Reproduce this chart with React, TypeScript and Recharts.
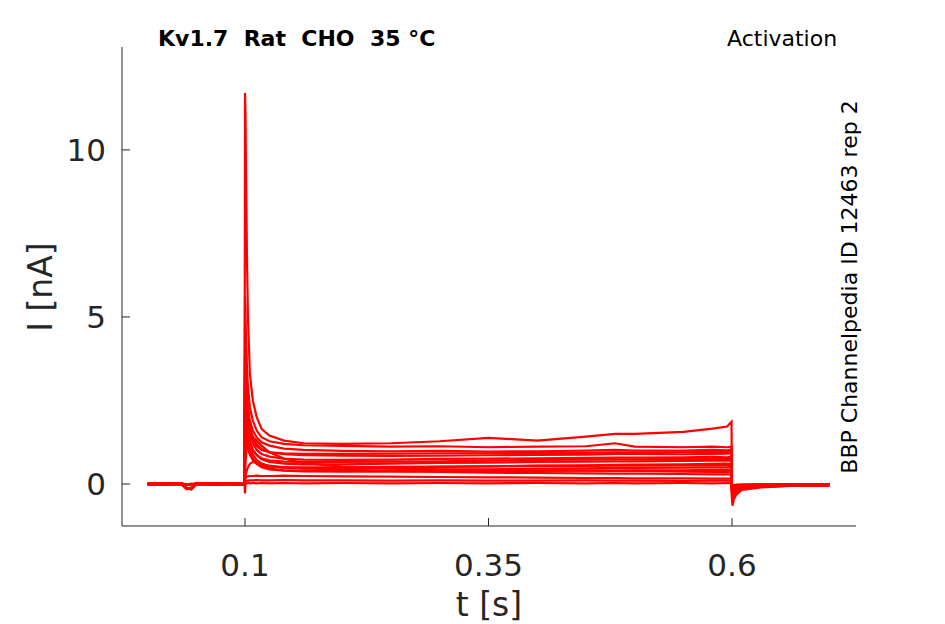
import React from 'react';
import { LineChart, Line, XAxis, YAxis } from 'recharts';

// time samples [s]
const T = [
  0, 0.02, 0.035, 0.04, 0.045, 0.05, 0.07, 0.09, 0.0995,
  0.1, 0.1005, 0.101, 0.102, 0.103, 0.105, 0.108, 0.112, 0.117, 0.125, 0.14, 0.16,
  0.2, 0.25, 0.3, 0.35, 0.4, 0.45, 0.48, 0.5, 0.55, 0.58, 0.595, 0.5995,
  0.6, 0.6005, 0.602, 0.605, 0.61, 0.63, 0.66, 0.7,
];

// current traces [nA]
const traceA = [
  0.01, -0.02, 0.0, -0.14, -0.16, 0.01, -0.01, 0.02, -0.01,
  11.7, 11.1, 9.4, 6.8, 5.0, 3.3, 2.5, 2.0, 1.65, 1.45, 1.3, 1.22,
  1.2, 1.22, 1.28, 1.38, 1.3, 1.42, 1.5, 1.5, 1.56, 1.66, 1.72, 1.86,
  -0.5, -0.65, -0.45, -0.3, -0.18, -0.1, -0.06, -0.05,
];
const traceB = [
  -0.01, 0.01, 0.02, -0.12, -0.15, -0.02, 0.0, -0.01, 0.01,
  5.6, 5.1, 4.4, 3.5, 2.9, 2.3, 1.9, 1.6, 1.4, 1.28, 1.2, 1.16,
  1.14, 1.12, 1.13, 1.1, 1.12, 1.13, 1.22, 1.12, 1.1, 1.12, 1.1, 1.12,
  -0.45, -0.55, -0.4, -0.25, -0.15, -0.08, -0.05, -0.04,
];
const traceC = [
  0.0, 0.02, -0.01, -0.03, -0.02, 0.01, 0.02, 0.0, -0.02,
  4.5, 4.1, 3.5, 2.8, 2.3, 1.9, 1.6, 1.4, 1.25, 1.15, 1.06, 1.02,
  0.99, 0.98, 0.99, 0.97, 0.98, 1.0, 1.02, 1.0, 1.0, 1.02, 1.01, 1.03,
  -0.4, -0.5, -0.35, -0.22, -0.14, -0.08, -0.05, -0.05,
];
const traceD = [
  0.02, 0.0, 0.01, -0.13, -0.12, 0.0, -0.02, 0.01, 0.0,
  3.9, 3.6, 3.1, 2.5, 2.05, 1.7, 1.42, 1.2, 1.05, 0.95, 0.89, 0.86,
  0.85, 0.84, 0.85, 0.86, 0.87, 0.88, 0.9, 0.9, 0.89, 0.9, 0.91, 0.92,
  -0.35, -0.45, -0.3, -0.2, -0.12, -0.07, -0.04, -0.04,
];
const traceR = [
  0.0, -0.01, 0.02, -0.14, -0.12, 0.01, -0.02, 0.0, 0.01,
  3.6, 3.3, 2.85, 2.3, 1.9, 1.58, 1.32, 1.14, 1.02, 0.95, 0.92, 0.9,
  0.9, 0.91, 0.92, 0.92, 0.93, 0.93, 0.95, 0.94, 0.95, 0.96, 0.96, 0.97,
  -0.33, -0.42, -0.3, -0.19, -0.11, -0.06, -0.04, -0.03,
];
const traceE = [
  -0.02, 0.01, 0.0, -0.02, -0.04, 0.02, 0.0, -0.01, 0.01,
  3.4, 3.1, 2.7, 2.15, 1.8, 1.48, 1.22, 1.02, 0.9, 0.82, 0.76, 0.73,
  0.72, 0.73, 0.75, 0.76, 0.77, 0.78, 0.79, 0.79, 0.8, 0.81, 0.8, 0.82,
  -0.3, -0.4, -0.28, -0.18, -0.1, -0.06, -0.04, -0.03,
];
const traceQ = [
  -0.02, 0.01, 0.01, -0.02, -0.01, -0.01, 0.0, 0.02, -0.01,
  2.8, 2.55, 2.2, 1.8, 1.5, 1.22, 1.0, 0.86, 0.77, 0.71, 0.67, 0.66,
  0.66, 0.67, 0.68, 0.7, 0.72, 0.73, 0.74, 0.74, 0.75, 0.76, 0.75, 0.76,
  -0.26, -0.33, -0.24, -0.15, -0.08, -0.05, -0.03, -0.03,
];
const traceF = [
  0.01, -0.01, 0.02, -0.14, -0.15, -0.01, 0.01, 0.0, -0.01,
  3.0, 2.7, 2.35, 1.9, 1.55, 1.28, 1.03, 0.87, 0.74, 0.66, 0.61, 0.59,
  0.59, 0.61, 0.63, 0.64, 0.66, 0.67, 0.68, 0.68, 0.69, 0.7, 0.71, 0.7,
  -0.28, -0.35, -0.25, -0.15, -0.09, -0.05, -0.03, -0.03,
];
const traceG = [
  0.0, 0.02, -0.02, -0.01, 0.01, 0.0, -0.01, 0.02, 0.0,
  2.6, 2.35, 2.05, 1.65, 1.35, 1.08, 0.88, 0.72, 0.61, 0.53, 0.49, 0.47,
  0.47, 0.49, 0.51, 0.53, 0.55, 0.56, 0.57, 0.58, 0.59, 0.6, 0.61, 0.6,
  -0.25, -0.3, -0.22, -0.14, -0.08, -0.05, -0.03, -0.02,
];
const traceP = [
  0.01, 0.0, -0.02, -0.13, -0.14, 0.0, 0.02, -0.01, 0.0,
  2.0, 1.85, 1.62, 1.3, 1.08, 0.88, 0.72, 0.62, 0.56, 0.52, 0.5, 0.5,
  0.5, 0.51, 0.52, 0.53, 0.54, 0.54, 0.55, 0.55, 0.56, 0.56, 0.57, 0.57,
  -0.2, -0.25, -0.18, -0.11, -0.06, -0.04, -0.02, -0.02,
];
const traceH = [
  -0.01, 0.0, 0.01, -0.12, -0.14, 0.02, 0.0, -0.02, 0.01,
  2.25, 2.05, 1.8, 1.45, 1.18, 0.96, 0.77, 0.63, 0.53, 0.46, 0.41, 0.39,
  0.39, 0.41, 0.43, 0.44, 0.46, 0.47, 0.48, 0.48, 0.49, 0.5, 0.5, 0.51,
  -0.22, -0.26, -0.2, -0.12, -0.07, -0.04, -0.03, -0.02,
];
const traceI = [
  0.02, -0.01, 0.0, -0.03, -0.02, 0.01, 0.02, -0.01, 0.0,
  1.95, 1.82, 1.62, 1.32, 1.1, 0.9, 0.73, 0.6, 0.5, 0.44, 0.4, 0.38,
  0.37, 0.37, 0.38, 0.38, 0.39, 0.4, 0.4, 0.41, 0.41, 0.42, 0.42, 0.43,
  -0.2, -0.24, -0.18, -0.11, -0.06, -0.04, -0.02, -0.02,
];
const traceJ = [
  0.0, 0.01, -0.01, -0.15, -0.13, 0.0, 0.01, 0.0, -0.02,
  0.3, 0.6, 0.85, 1.1, 1.25, 1.37, 1.4, 1.3, 1.15, 0.95, 0.76, 0.63,
  0.52, 0.47, 0.44, 0.42, 0.41, 0.4, 0.39, 0.39, 0.37, 0.36, 0.36, 0.35,
  -0.15, -0.2, -0.14, -0.09, -0.05, -0.03, -0.02, -0.02,
];
const traceK = [
  -0.01, 0.0, 0.02, -0.02, -0.03, 0.0, -0.01, 0.01, 0.0,
  0.1, 0.2, 0.3, 0.42, 0.5, 0.6, 0.66, 0.63, 0.59, 0.55, 0.5, 0.47,
  0.43, 0.39, 0.36, 0.34, 0.33, 0.32, 0.31, 0.31, 0.3, 0.29, 0.29, 0.28,
  -0.1, -0.14, -0.1, -0.06, -0.04, -0.02, -0.02, -0.01,
];
const traceL = [
  0.01, 0.0, -0.01, -0.12, -0.14, 0.01, 0.0, 0.01, -0.01,
  0.12, 0.18, 0.2, 0.22, 0.23, 0.24, 0.24, 0.25, 0.24, 0.24, 0.25, 0.24,
  0.23, 0.22, 0.21, 0.2, 0.19, 0.18, 0.18, 0.17, 0.17, 0.16, 0.16, 0.16,
  -0.08, -0.1, -0.07, -0.05, -0.03, -0.02, -0.01, -0.01,
];
const traceM = [
  0.0, -0.02, 0.01, -0.02, -0.01, 0.02, 0.0, -0.01, 0.01,
  0.05, 0.08, 0.09, 0.1, 0.1, 0.11, 0.11, 0.12, 0.11, 0.11, 0.12, 0.11,
  0.11, 0.1, 0.11, 0.1, 0.1, 0.11, 0.1, 0.1, 0.09, 0.1, 0.1, 0.1,
  -0.05, -0.06, -0.04, -0.03, -0.02, -0.01, -0.01, -0.01,
];
const traceN = [
  -0.01, 0.01, 0.0, -0.13, -0.15, 0.0, -0.01, 0.01, -0.03,
  -0.28, 0.04, 0.03, 0.02, 0.03, 0.02, 0.03, 0.02, 0.03, 0.02, 0.03, 0.02,
  0.03, 0.02, 0.03, 0.02, 0.03, 0.02, 0.03, 0.02, 0.03, 0.02, 0.03, 0.02,
  -0.05, -0.04, -0.03, -0.02, -0.02, -0.01, -0.01, -0.01,
];

const TRACES = [
  traceA, traceB, traceC, traceD, traceR, traceE, traceQ, traceF, traceG,
  traceP, traceH, traceI, traceJ, traceK, traceL, traceM, traceN,
];

const X_TICKS = [0.1, 0.35, 0.6];
const Y_TICKS = [0, 5, 10];

const TITLE = 'Kv1.7  Rat  CHO  35 °C';
const PROTOCOL = 'Activation';
const SIDE = 'BBP Channelpedia ID 12463 rep 2';

const rows = T.map((t, i) => {
  const r: Record<string, number> = { t };
  TRACES.forEach((tr, k) => {
    r['s' + k] = tr[i];
  });
  return r;
});

const INK = '#262626';
const FONT = '"DejaVu Sans", sans-serif';

const XTick = (props: any) => {
  const { x, y, payload } = props;
  return (
    <g>
      <line x1={x} y1={y} x2={x} y2={y - 8} stroke={INK} strokeWidth={1} />
      <text x={x} y={y + 39} textAnchor="middle" dominantBaseline="central" fontSize={31} fill={INK} fontFamily={FONT}>
        {String(payload.value)}
      </text>
    </g>
  );
};

const YTick = (props: any) => {
  const { x, y, payload } = props;
  return (
    <g>
      <line x1={x} y1={y} x2={x + 8} y2={y} stroke={INK} strokeWidth={1} />
      <text x={x - 16} y={y} textAnchor="end" dominantBaseline="central" fontSize={31} fill={INK} fontFamily={FONT}>
        {String(payload.value)}
      </text>
    </g>
  );
};

export default function App() {
  return (
    <div style={{ position: 'absolute', left: 0, top: 0, width: 945, height: 624, background: '#fff', fontFamily: FONT }}>
      <LineChart width={945} height={624} data={rows} margin={{ top: 47, right: 89, bottom: 38, left: 62 }}>
        <XAxis
          dataKey="t"
          type="number"
          domain={[-0.0263, 0.7273]}
          allowDataOverflow
          ticks={X_TICKS}
          height={60}
          tickLine={false}
          tickSize={0}
          tickMargin={0}
          tick={<XTick />}
          axisLine={{ stroke: INK, strokeWidth: 1 }}
        />
        <YAxis
          type="number"
          domain={[-1.257, 13.08]}
          allowDataOverflow
          ticks={Y_TICKS}
          width={60}
          tickLine={false}
          tickSize={0}
          tickMargin={0}
          tick={<YTick />}
          axisLine={{ stroke: INK, strokeWidth: 1 }}
        />
        {TRACES.map((_, k) => (
          <Line
            key={k}
            dataKey={'s' + k}
            type="linear"
            stroke="#ff0000"
            strokeWidth={2.2}
            dot={false}
            activeDot={false}
            isAnimationActive={false}
          />
        ))}
      </LineChart>
      <div style={{ position: 'absolute', left: 158, top: 39, transform: 'translateY(-50%)', fontSize: 22, fontWeight: 'bold', whiteSpace: 'pre', lineHeight: 1, color: '#000' }}>
        {TITLE}
      </div>
      <div style={{ position: 'absolute', left: 727, top: 39, transform: 'translateY(-50%)', fontSize: 22, whiteSpace: 'pre', lineHeight: 1, color: '#000' }}>
        {PROTOCOL}
      </div>
      <div style={{ position: 'absolute', left: 850, top: 287, transform: 'translate(-50%, -50%) rotate(-90deg)', fontSize: 22, whiteSpace: 'pre', lineHeight: 1, color: '#000' }}>
        {SIDE}
      </div>
      <div style={{ position: 'absolute', left: 40, top: 287, transform: 'translate(-50%, -50%) rotate(-90deg)', fontSize: 33, whiteSpace: 'pre', lineHeight: 1, color: INK }}>
        I [nA]
      </div>
      <div style={{ position: 'absolute', left: 489, top: 604, transform: 'translate(-50%, -50%)', fontSize: 33, whiteSpace: 'pre', lineHeight: 1, color: INK }}>
        t [s]
      </div>
    </div>
  );
}
